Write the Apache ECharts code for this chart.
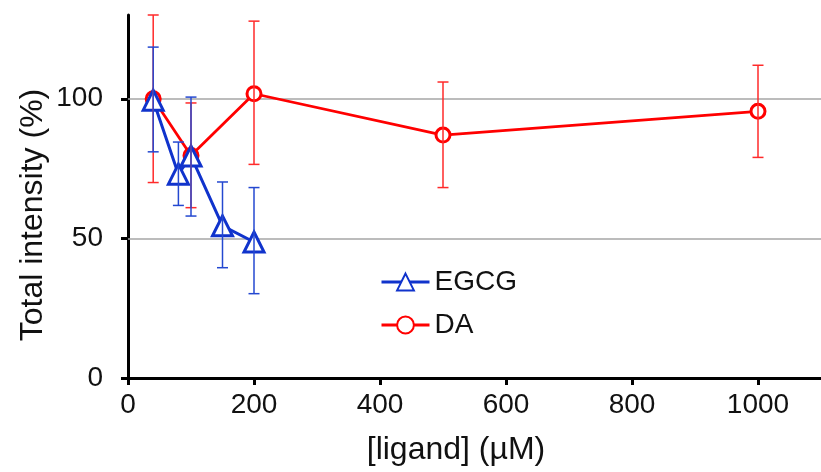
<!DOCTYPE html>
<html>
<head>
<meta charset="utf-8">
<script src="https://cdn.jsdelivr.net/npm/echarts@6/dist/echarts.min.js"></script>
<style>
html,body{margin:0;padding:0;background:#fff;}
#chart{width:821px;height:472px;}
</style>
</head>
<body>
<div id="chart"></div>
<script>
// ---- data ----
const egcgX = [40, 80, 100, 150, 200];
const egcgY = [99.5, 73, 79.5, 54.5, 48.7];
const egcgLow = [81, 61.8, 58, 39.5, 30.2];
const egcgHigh = [118.5, 84.5, 100.6, 70.2, 68.2];

const daX = [40, 100, 200, 500, 1000];
const daY = [100, 79.7, 101.8, 87, 95.5];
const daLow = [70, 61, 76.5, 68.2, 79];
const daHigh = [130, 98.5, 127.8, 106, 112];

const xTicks = [0, 200, 400, 600, 800, 1000];
const yTicks = [0, 50, 100];
const yGrid = [50, 100];

const seriesNames = ['EGCG', 'DA'];
const xTitle = '[ligand] (µM)';
const yTitle = 'Total intensity (%)';

// ---- build ----
const BLUE = '#1033CC';
const RED = '#FF0000';
const FONT = '"Liberation Sans", Arial, sans-serif';

function pairs(xs, ys) { return xs.map((x, i) => [x, ys[i]]); }
function errData(xs, lo, hi) { return xs.map((x, i) => [x, lo[i], hi[i]]); }

function errRender(color) {
  return function (params, api) {
    const x = api.value(0), lo = api.value(1), hi = api.value(2);
    const p1 = api.coord([x, lo]);
    const p2 = api.coord([x, hi]);
    const w = 5.5;
    const st = { stroke: color, lineWidth: 1.5 };
    return {
      type: 'group',
      children: [
        { type: 'line', shape: { x1: p1[0], y1: p1[1], x2: p2[0], y2: p2[1] }, style: st },
        { type: 'line', shape: { x1: p1[0] - w, y1: p1[1], x2: p1[0] + w, y2: p1[1] }, style: st },
        { type: 'line', shape: { x1: p2[0] - w, y1: p2[1], x2: p2[0] + w, y2: p2[1] }, style: st }
      ]
    };
  };
}

const chart = echarts.init(document.getElementById('chart'), null, { renderer: 'canvas' });
chart.setOption({
  animation: false,
  backgroundColor: '#fff',
  grid: { left: 128, top: 15, right: -8, bottom: 94, containLabel: false },
  xAxis: {
    type: 'value', min: 0, max: 1100, interval: 200,
    axisLine: { show: true, onZero: false, lineStyle: { color: '#000', width: 3 } },
    axisTick: { show: true, inside: false, length: 7, lineStyle: { color: '#000', width: 3 }, customValues: xTicks },
    axisLabel: { color: '#111', fontSize: 28, fontFamily: FONT, margin: 13, customValues: xTicks,
      formatter: v => String(v) },
    splitLine: { show: false }
  },
  yAxis: {
    type: 'value', min: 0, max: 130, interval: 50,
    axisLine: { show: true, lineStyle: { color: '#000', width: 3 } },
    axisTick: { show: true, inside: false, length: 7, lineStyle: { color: '#000', width: 3 }, customValues: yTicks },
    axisLabel: { color: '#111', fontSize: 28, fontFamily: FONT, margin: 25, customValues: yTicks,
      formatter: v => String(v) },
    splitLine: { show: false }
  },
  legend: {
    data: seriesNames,
    orient: 'vertical',
    left: 375, top: 263,
    itemWidth: 48, itemHeight: 21, itemGap: 15,
    lineStyle: { width: 3 },
    textStyle: { color: '#111', fontSize: 28, fontFamily: FONT, lineHeight: 28 }
  },
  graphic: [
    { type: 'text', x: 33, y: 215, rotation: Math.PI / 2,
      style: { text: yTitle, fill: '#111', font: '32px ' + FONT, textAlign: 'center', textVerticalAlign: 'middle' } },
    { type: 'text', x: 456, y: 450,
      style: { text: xTitle, fill: '#111', font: '32px ' + FONT, textAlign: 'center', textVerticalAlign: 'middle' } }
  ],
  series: [
    { name: 'DA', type: 'line', data: pairs(daX, daY), z: 3,
      symbol: 'circle', symbolSize: 14,
      lineStyle: { color: RED, width: 2.8 },
      itemStyle: { color: '#fff', borderColor: RED, borderWidth: 3 },
      markLine: {
        silent: true, symbol: 'none', label: { show: false }, z: 1,
        lineStyle: { color: '#A6A6A6', width: 1.5, type: 'solid' },
        data: yGrid.map(v => ({ yAxis: v }))
      } },
    { name: 'EGCG', type: 'line', data: pairs(egcgX, egcgY), z: 4,
      symbol: 'triangle', symbolSize: 20,
      lineStyle: { color: BLUE, width: 3 },
      itemStyle: { color: '#fff', borderColor: BLUE, borderWidth: 3 } },
    { name: 'DAerr', type: 'custom', data: errData(daX, daLow, daHigh), z: 5, silent: true,
      renderItem: errRender('#FF2A2A'), encode: { x: 0, y: [1, 2] } },
    { name: 'EGCGerr', type: 'custom', data: errData(egcgX, egcgLow, egcgHigh), z: 6, silent: true,
      renderItem: errRender('#2448D0'), encode: { x: 0, y: [1, 2] } }
  ]
});
</script>
</body>
</html>
